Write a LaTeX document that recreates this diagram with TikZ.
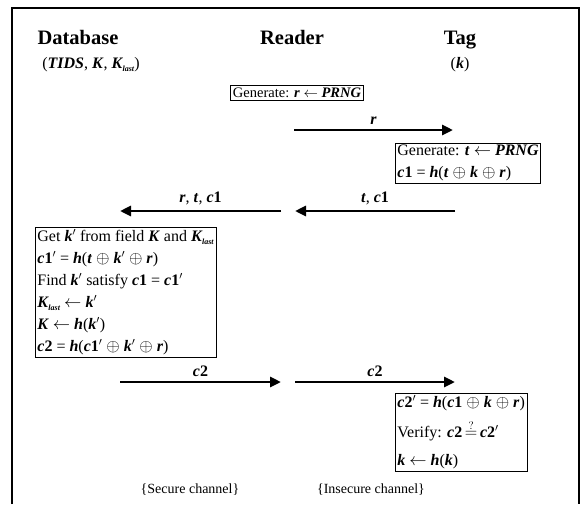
\documentclass[tikz,border=0pt]{standalone}
\usepackage{fontspec}
\setmainfont{Liberation Serif}
\usetikzlibrary{arrows.meta}

\newcommand{\mv}[1]{\textbf{\textit{#1}}}
\newcommand{\Klast}{\mv{K}\kern-0.5pt\raisebox{-2.5pt}{\fontsize{8}{8}\selectfont\mv{last}}}

\begin{document}
\begin{tikzpicture}[x=1pt, y=-1pt,
  every node/.style={font=\fontsize{16}{22}\selectfont},
  head/.style={font=\fontsize{20.5}{22}\selectfont\bfseries, anchor=base},
  calc/.style={draw, line width=0.8pt, align=left, inner sep=2pt, anchor=north west},
  msg/.style={-{Triangle[length=11pt,width=10pt]}, line width=2.8pt},
  lbl/.style={above=1pt},
  note/.style={font=\fontsize{14}{16}\selectfont},
]

\useasboundingbox (0,0) rectangle (581,504);
\draw[line width=1.2pt] (12,504) -- (12,8) -- (579,8) -- (579,504);

% parties
\node[head] (db) at (78,44) {Database};
\node[head] (rd) at (292,44) {Reader};
\node[head] (tg) at (460,44) {Tag};
\node (dbkeys) at (91,65) {(\mv{TIDS}, \mv{K}, \Klast)};
\node (tgkey) at (460,65) {(\mv{k})};

% reader
\node[draw, line width=0.8pt, inner sep=2.5pt, font=\fontsize{14.5}{18}\selectfont] (gen) at (297,93) {Generate: \mv{r} $\leftarrow$ \mv{PRNG}};

\coordinate (r1) at (294,130);
\coordinate (r2) at (453,130);
\draw[msg] (r1) -- node[lbl] (lr) {\mv{r}} (r2);

% tag
\node[calc] (tag1) at (395,143) {Generate: \mv{t} $\leftarrow$ \mv{PRNG}\\
  \mv{c}\textbf{1} = \mv{h}(\mv{t} $\oplus$ \mv{k} $\oplus$ \mv{r})};

\coordinate (tc1) at (455,211);
\coordinate (tc2) at (295,211);
\coordinate (rtc1) at (281,211);
\coordinate (rtc2) at (120,211);
\draw[msg] (tc1) -- node[lbl] (ltc) {\mv{t}, \mv{c}\textbf{1}} (tc2);
\draw[msg] (rtc1) -- node[lbl] (lrtc) {\mv{r}, \mv{t}, \mv{c}\textbf{1}} (rtc2);

% database
\node[calc] (dbbox) at (35,227) {Get \mv{k}$'$ from field \mv{K} and \Klast\\
  \mv{c}\textbf{1}$'$ = \mv{h}(\mv{t} $\oplus$ \mv{k}$'$ $\oplus$ \mv{r})\\
  Find \mv{k}$'$ satisfy \mv{c}\textbf{1} = \mv{c}\textbf{1}$'$\\
  \Klast{} $\leftarrow$ \mv{k}$'$\\
  \mv{K} $\leftarrow$ \mv{h}(\mv{k}$'$)\\
  \mv{c}\textbf{2} = \mv{h}(\mv{c}\textbf{1}$'$ $\oplus$ \mv{k}$'$ $\oplus$ \mv{r})};

\coordinate (s1) at (120,382);
\coordinate (s2) at (281,382);
\coordinate (i1) at (295,382);
\coordinate (i2) at (455,382);
\draw[msg] (s1) -- node[lbl] (ls) {\mv{c}\textbf{2}} (s2);
\draw[msg] (i1) -- node[lbl] (li) {\mv{c}\textbf{2}} (i2);

% tag verify
\node[calc] (tag2) at (395,393) {\mv{c}\textbf{2}$'$ = \mv{h}(\mv{c}\textbf{1} $\oplus$ \mv{k} $\oplus$ \mv{r})\\[8pt]
  Verify: \mv{c}\textbf{2}\,$\stackrel{?}{=}$\,\mv{c}\textbf{2}$'$\\[6pt]
  \mv{k} $\leftarrow$ \mv{h}(\mv{k})};

% channels
\node[note] (sec) at (190,490) {\{Secure channel\}};
\node[note] (insec) at (371,490) {\{Insecure channel\}};

\end{tikzpicture}
\end{document}
